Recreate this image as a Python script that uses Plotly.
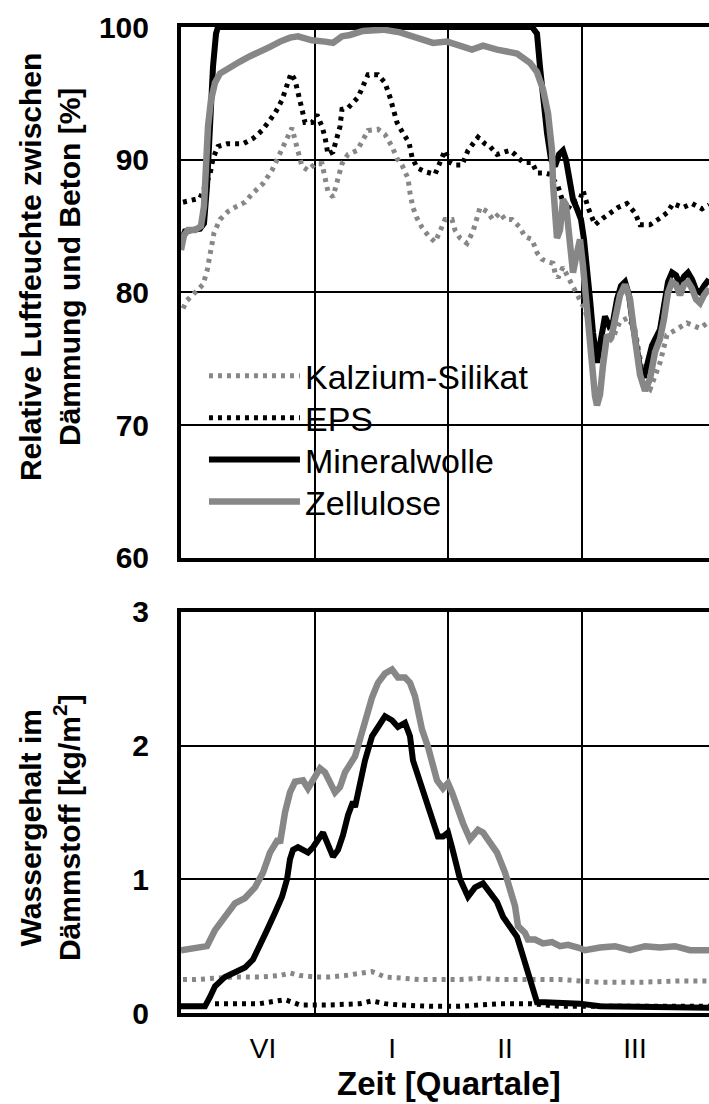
import plotly.graph_objects as go

# ---------------- data (x in months from start of record) ----------------
# Top panel: relative humidity between insulation and concrete [%]
min_rh_x = [0, 0.09, 0.427, 0.517, 0.584, 0.652, 0.719, 0.787, 0.831, 7.888, 8.0, 8.067,
            8.135, 8.225, 8.315, 8.404, 8.494, 8.584, 8.652, 8.719, 8.809, 8.899, 8.989,
            9.056, 9.124, 9.191, 9.258, 9.348, 9.438, 9.528, 9.618, 9.708, 9.798, 9.888,
            9.978, 10.067, 10.157, 10.247, 10.337, 10.404, 10.494, 10.584, 10.674, 10.764,
            10.854, 10.944, 11.034, 11.124, 11.213, 11.303, 11.393, 11.483, 11.573,
            11.663, 11.753, 11.865]
min_rh_y = [83.8, 84.6, 84.8, 85.2, 88.0, 93.0, 97.0, 99.5, 100, 100, 99.5, 97.0,
            94.5, 92.0, 90.0, 89.5, 90.4, 90.7, 90.0, 88.5, 87.0, 86.3, 85.5,
            84.0, 82.0, 79.5, 77.0, 74.7, 76.5, 78.2, 77.5, 77.8, 79.5, 80.5,
            80.8, 79.8, 77.5, 75.3, 73.9, 73.6, 74.8, 76.0, 76.6, 77.2,
            79.0, 80.8, 81.5, 81.3, 80.6, 81.2, 81.5, 81.0, 80.2,
            80.0, 80.5, 81.0]

zel_rh_x = [0, 0.067, 0.157, 0.315, 0.449, 0.517, 0.562, 0.607, 0.674, 0.764, 0.876,
            1.101, 1.326, 1.551, 1.775, 2.0, 2.225, 2.449, 2.629, 2.787, 2.944, 3.236,
            3.416, 3.618, 3.798, 4.09, 4.539, 4.921, 5.303, 5.663, 5.978, 6.27, 6.539,
            6.787, 7.101, 7.551, 7.843, 8.0, 8.135, 8.247, 8.337, 8.36, 8.404, 8.449,
            8.517, 8.584, 8.652, 8.719, 8.809, 8.899, 8.966, 9.034, 9.101, 9.169, 9.236,
            9.303, 9.348, 9.416, 9.483, 9.573, 9.663, 9.753, 9.865, 9.978, 10.09, 10.202,
            10.315, 10.427, 10.539, 10.652, 10.764, 10.854, 10.944, 11.034, 11.124,
            11.213, 11.303, 11.393, 11.483, 11.573, 11.663, 11.753, 11.865]
zel_rh_y = [83.2, 84.3, 84.7, 84.7, 85.0, 86.5, 89.5, 92.5, 94.5, 95.8, 96.5,
            97.0, 97.4, 97.8, 98.1, 98.5, 98.9, 99.2, 99.3, 99.1, 99.0, 98.9,
            98.8, 99.3, 99.4, 99.7, 99.8, 99.6, 99.2, 98.8, 98.9, 98.6, 98.3,
            98.6, 98.3, 98.0, 97.3, 96.6, 95.3, 93.5, 90.7, 88.2, 85.7, 84.1,
            84.7, 87.0, 86.6, 84.5, 81.5, 83.0, 84.0, 82.0, 79.5, 76.5, 74.0,
            72.2, 71.5, 72.3, 74.5, 76.8, 76.5, 77.8, 79.8, 80.6, 79.5, 76.5,
            73.8, 72.6, 73.5, 75.5, 76.5, 78.0, 80.0, 80.8, 80.6,
            79.8, 80.6, 80.8, 80.3, 79.5, 79.2, 79.8, 80.3]

eps_rh_x = [0.045, 0.202, 0.427, 0.652, 0.719, 0.831, 1.034, 1.213, 1.393, 1.618, 1.82,
            1.955, 2.112, 2.27, 2.382, 2.472, 2.562, 2.652, 2.719, 2.787, 2.944, 3.056,
            3.169, 3.236, 3.303, 3.416, 3.506, 3.573, 3.618, 3.753, 3.978, 4.09, 4.202,
            4.427, 4.584, 4.697, 4.764, 4.854, 4.989, 5.124, 5.191, 5.303, 5.483, 5.708,
            5.82, 5.933, 6.045, 6.157, 6.315, 6.449, 6.674, 6.831, 6.944, 7.101, 7.281,
            7.393, 7.506, 7.685, 7.888, 8.0, 8.18, 8.292, 8.472, 8.584, 8.674, 8.787,
            8.966, 9.034, 9.146, 9.303, 9.483, 9.64, 9.82, 10.022, 10.202, 10.315,
            10.539, 10.764, 10.921, 11.056, 11.281, 11.483, 11.708, 11.865]
eps_rh_y = [86.8, 86.9, 87.1, 88.9, 90.1, 91.0, 91.2, 91.2, 91.2, 91.6, 92.2,
            92.8, 93.5, 94.5, 95.5, 96.5, 96.0, 94.9, 93.8, 92.8, 92.8, 93.4,
            92.5, 91.7, 90.4, 90.6, 91.6, 92.5, 93.8, 93.9, 94.7, 95.5, 96.4,
            96.4, 95.8, 94.7, 93.8, 92.8, 92.0, 91.3, 90.2, 89.4, 89.1, 88.9,
            89.8, 90.7, 89.8, 89.6, 89.6, 90.7, 91.7, 91.2, 91.0, 90.4, 90.6,
            90.7, 90.4, 89.8, 89.8, 89.0, 89.0, 88.9, 88.0, 86.8, 86.2, 86.8,
            87.0, 87.7, 86.4, 85.1, 85.6, 86.0, 86.4, 86.7, 86.0, 85.1,
            85.1, 85.6, 86.0, 86.7, 86.4, 86.7, 86.3, 86.6]

kal_rh_x = [0.045, 0.135, 0.315, 0.494, 0.584, 0.629, 0.674, 0.742, 0.876, 1.056, 1.258,
            1.438, 1.618, 1.843, 2.045, 2.157, 2.292, 2.404, 2.494, 2.562, 2.652, 2.719,
            2.854, 3.011, 3.169, 3.236, 3.303, 3.416, 3.506, 3.618, 3.753, 3.955, 4.09,
            4.202, 4.427, 4.584, 4.742, 4.854, 4.966, 5.101, 5.146, 5.213, 5.303, 5.416,
            5.551, 5.708, 5.82, 5.933, 6.09, 6.157, 6.27, 6.427, 6.562, 6.652, 6.719,
            6.876, 7.011, 7.169, 7.281, 7.438, 7.551, 7.618, 7.73, 7.888, 8.0, 8.112,
            8.247, 8.36, 8.404, 8.472, 8.584, 8.742, 8.921, 9.079, 9.191, 9.348, 9.528,
            9.708, 9.865, 10.045, 10.202, 10.315, 10.427, 10.539, 10.652, 10.764,
            10.921, 11.146, 11.371, 11.663, 11.865]
kal_rh_y = [78.8, 79.4, 80.0, 80.6, 81.6, 82.6, 83.6, 84.5, 85.5, 86.1, 86.5,
            86.8, 87.5, 88.2, 89.2, 90.0, 90.9, 91.7, 92.4, 91.5, 90.5, 89.5,
            89.2, 89.7, 89.7, 88.5, 87.6, 87.2, 88.3, 89.7, 90.4, 90.7, 91.5,
            92.2, 92.3, 91.9, 91.0, 90.1, 89.6, 88.6, 87.5, 86.4, 85.6, 84.9,
            84.3, 83.8, 84.6, 85.5, 85.5, 84.7, 84.1, 83.7, 84.6, 85.6, 86.4,
            86.1, 85.5, 86.0, 85.5, 85.5, 85.1, 84.9, 84.2, 84.0, 83.0, 82.5,
            82.3, 82.2, 81.5, 81.1, 81.9, 80.9, 79.8, 78.7, 77.2, 75.7, 76.0,
            76.6, 77.8, 78.1, 77.2, 75.3, 73.0, 72.7, 73.6, 74.7,
            76.8, 77.3, 77.7, 77.3, 77.8]

# Bottom panel: water content of the insulation [kg/m²]
min_wc_x = [0, 0.539, 0.652, 0.764, 0.989, 1.213, 1.438, 1.618, 1.775, 1.933, 2.112,
            2.27, 2.382, 2.449, 2.517, 2.629, 2.742, 2.854, 2.966, 3.079, 3.191, 3.303,
            3.416, 3.528, 3.64, 3.753, 3.865, 3.91, 4.022, 4.135, 4.292, 4.427, 4.584,
            4.742, 4.876, 5.034, 5.146, 5.213, 5.326, 5.438, 5.551, 5.663, 5.775,
            5.888, 6.0, 6.09, 6.157, 6.27, 6.449, 6.607, 6.787, 6.944, 7.101, 7.236,
            7.393, 7.551, 7.663, 7.775, 7.888, 8.0, 8.18, 8.517, 8.966, 9.416, 10.09,
            10.764, 11.438, 11.865]
min_wc_y = [0.05, 0.05, 0.12, 0.20, 0.27, 0.30, 0.34, 0.40, 0.50, 0.62, 0.75,
            0.87, 1.00, 1.15, 1.22, 1.24, 1.22, 1.20, 1.24, 1.30, 1.35, 1.26,
            1.17, 1.22, 1.33, 1.48, 1.58, 1.54, 1.74, 1.89, 2.07, 2.14, 2.22,
            2.19, 2.14, 2.17, 2.07, 1.89, 1.77, 1.67, 1.54, 1.42, 1.32,
            1.32, 1.35, 1.24, 1.15, 1.00, 0.87, 0.94, 0.97, 0.90, 0.83, 0.72,
            0.64, 0.57, 0.45, 0.32, 0.22, 0.08, 0.08, 0.08, 0.07, 0.05, 0.05,
            0.05, 0.05, 0.04]

zel_wc_x = [0, 0.539, 0.584, 0.764, 0.989, 1.213, 1.438, 1.663, 1.843, 2.0, 2.18,
            2.225, 2.337, 2.449, 2.562, 2.742, 2.854, 2.966, 3.124, 3.236, 3.348,
            3.461, 3.573, 3.685, 3.798, 3.91, 3.955, 4.09, 4.202, 4.292, 4.427,
            4.584, 4.742, 4.876, 5.034, 5.146, 5.258, 5.326, 5.416, 5.551, 5.663,
            5.753, 5.888, 6.0, 6.09, 6.202, 6.337, 6.494, 6.674, 6.787, 6.944,
            7.101, 7.281, 7.393, 7.506, 7.573, 7.73, 7.798, 7.955, 8.135, 8.337,
            8.517, 8.697, 8.921, 9.079, 9.416, 9.753, 10.09, 10.427, 10.764,
            11.101, 11.438, 11.865]
zel_wc_y = [0.47, 0.49, 0.50, 0.62, 0.72, 0.82, 0.86, 0.94, 1.05, 1.20, 1.30,
            1.27, 1.50, 1.65, 1.73, 1.74, 1.68, 1.74, 1.83, 1.80, 1.72,
            1.65, 1.69, 1.80, 1.86, 1.92, 1.97, 2.14, 2.29, 2.36, 2.47,
            2.54, 2.57, 2.51, 2.51, 2.47, 2.37, 2.24, 2.12, 1.99, 1.87,
            1.74, 1.68, 1.72, 1.65, 1.54, 1.42, 1.30, 1.37, 1.35, 1.27,
            1.20, 1.05, 0.92, 0.80, 0.65, 0.60, 0.55, 0.55, 0.52, 0.53,
            0.50, 0.51, 0.49, 0.47, 0.49, 0.50, 0.47, 0.50, 0.49,
            0.50, 0.47, 0.47]

kal_wc_x = [0.045, 0.315, 0.764, 1.213, 1.775, 2.225, 2.449, 2.674, 3.011, 3.348,
            3.685, 4.067, 4.292, 4.584, 4.921, 5.371, 5.82, 6.27, 6.719, 7.169,
            7.843, 8.517, 9.416, 10.315, 11.213, 11.865]
kal_wc_y = [0.25, 0.25, 0.26, 0.27, 0.27, 0.28, 0.30, 0.28, 0.27, 0.27,
            0.28, 0.30, 0.31, 0.27, 0.26, 0.25, 0.25, 0.25, 0.26, 0.25,
            0.25, 0.25, 0.23, 0.23, 0.24, 0.24]

eps_wc_x = [0.764, 1.775, 2.337, 2.562, 2.674, 3.348, 4.022, 4.292, 4.584, 4.921,
            5.596, 6.27, 7.169, 7.843, 8.517, 9.416, 10.315, 11.213, 11.865]
eps_wc_y = [0.07, 0.07, 0.10, 0.07, 0.06, 0.06, 0.07, 0.09, 0.07, 0.06,
            0.05, 0.05, 0.07, 0.07, 0.05, 0.05, 0.05, 0.05, 0.05]

quarter_bounds = [3, 6, 9]
quarter_label_pos = [1.843, 4.742, 7.281, 10.202]
quarter_labels = ["VI", "I", "II", "III"]

names = ["Kalzium-Silikat", "EPS", "Mineralwolle", "Zellulose"]

# ---------------- styles ----------------
GRAY = "#878787"
FONT = "Liberation Sans, Arial, sans-serif"
styles = {
    "Kalzium-Silikat": dict(color=GRAY, width=5, dash="4px,5px"),
    "EPS": dict(color="black", width=5, dash="4px,5px"),
    "Mineralwolle": dict(color="black", width=6),
    "Zellulose": dict(color=GRAY, width=6.5),
}
legend_ids = ["legend", "legend2", "legend3", "legend4"]
legend_y = [0.646, 0.6034, 0.5609, 0.5183]

fig = go.Figure()
top = {"Kalzium-Silikat": (kal_rh_x, kal_rh_y), "EPS": (eps_rh_x, eps_rh_y),
       "Mineralwolle": (min_rh_x, min_rh_y), "Zellulose": (zel_rh_x, zel_rh_y)}
bot = {"Kalzium-Silikat": (kal_wc_x, kal_wc_y), "EPS": (eps_wc_x, eps_wc_y),
       "Mineralwolle": (min_wc_x, min_wc_y), "Zellulose": (zel_wc_x, zel_wc_y)}

for n, lid in zip(names, legend_ids):
    x, y = top[n]
    fig.add_trace(go.Scatter(x=x, y=y, mode="lines", name=n, line=styles[n],
                             xaxis="x", yaxis="y", showlegend=True, legend=lid))
for n in names:
    x, y = bot[n]
    fig.add_trace(go.Scatter(x=x, y=y, mode="lines", name=n, line=styles[n],
                             xaxis="x2", yaxis="y2", showlegend=False))

XR = [0, 11.865]
common_x = dict(range=XR, showgrid=False, zeroline=False, showline=True, linecolor="black",
                linewidth=3.5, mirror=True, ticks="",
                minor=dict(tickmode="array", tickvals=quarter_bounds, showgrid=True,
                           gridcolor="black", gridwidth=2, ticks=""))
common_y = dict(showgrid=True, gridcolor="black", gridwidth=2, zeroline=False,
                showline=True, linecolor="black", linewidth=4, mirror=False, ticks="",
                tickfont=dict(family=FONT, size=30, color="black", weight="bold"),
                ticklabelstandoff=22)

legend_common = dict(x=0.0435, xanchor="left", yanchor="middle", bgcolor="rgba(0,0,0,0)",
                     borderwidth=0, font=dict(family=FONT, size=34, color="black"),
                     itemwidth=91)
legends = {lid: dict(y=ly, **legend_common) for lid, ly in zip(legend_ids, legend_y)}

fig.update_layout(
    width=709, height=1104,
    margin=dict(l=181, r=0, t=27, b=91, autoexpand=False),
    paper_bgcolor="white", plot_bgcolor="white",
    font=dict(family=FONT, color="black"),
    xaxis=dict(domain=[0, 1], anchor="y", showticklabels=False, **common_x),
    yaxis=dict(domain=[0.4615, 1], range=[60, 100], tickvals=[60, 70, 80, 90, 100],
               anchor="x", **common_y),
    xaxis2=dict(domain=[0, 1], anchor="y2", tickmode="array", tickvals=quarter_label_pos,
                ticktext=quarter_labels,
                tickfont=dict(family=FONT, size=28, color="black"),
                ticklabelstandoff=8, **common_x),
    yaxis2=dict(domain=[0, 0.4067], range=[0, 3], tickvals=[0, 1, 2, 3], anchor="x2",
                **common_y),
    shapes=[dict(type="rect", xref="paper", yref="paper", x0=0.036, x1=0.695,
                 y0=0.4777, y1=0.6704, fillcolor="white", line=dict(width=0),
                 layer="between")],
    annotations=[
        dict(text="Relative Luftfeuchte zwischen<br>Dämmung und Beton [%]",
             xref="paper", yref="paper", x=-0.248, y=0.7566, textangle=-90,
             showarrow=False, xanchor="center", yanchor="middle",
             font=dict(family=FONT, size=30, color="black", weight="bold")),
        dict(text="Wassergehalt im<br>Dämmstoff [kg/m<sup>2</sup>]",
             xref="paper", yref="paper", x=-0.248, y=0.1876, textangle=-90,
             showarrow=False, xanchor="center", yanchor="middle",
             font=dict(family=FONT, size=30, color="black", weight="bold")),
        dict(text="Zeit [Quartale]", xref="paper", yref="paper", x=0.5076, y=-0.071,
             showarrow=False, xanchor="center", yanchor="middle",
             font=dict(family=FONT, size=33, color="black", weight="bold")),
    ],
)
fig.update_layout(**legends)

fig.write_html("out.html", config={"displayModeBar": False},
               post_script="document.body.style.margin='0';document.body.style.padding='0';")
